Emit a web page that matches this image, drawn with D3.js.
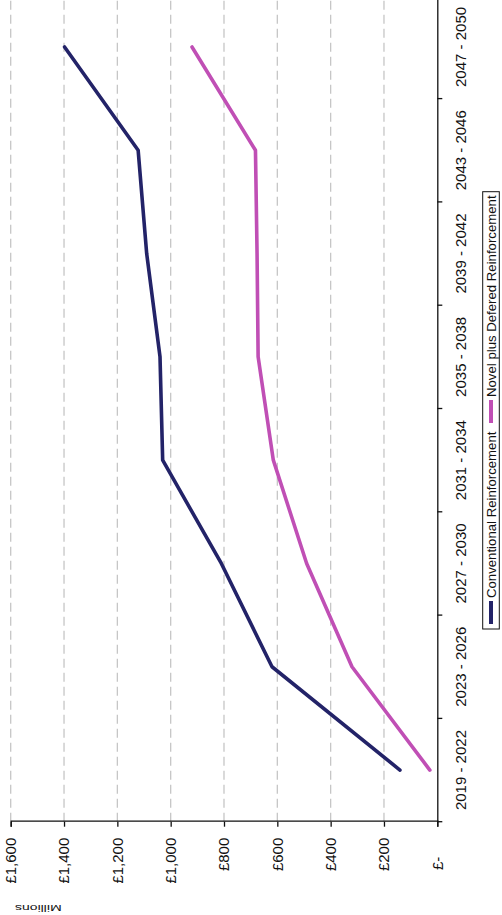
<!DOCTYPE html>
<html>
<head>
<meta charset="utf-8">
<script src="https://cdn.jsdelivr.net/npm/d3@7"></script>
<style>
  html, body { margin: 0; padding: 0; background: #ffffff; }
  svg { display: block; }
  text { font-family: "Liberation Sans", Arial, sans-serif; fill: #111; }
</style>
</head>
<body>
<svg id="chart" width="502" height="915"></svg>
<script>
// Four-year periods on the category axis
const periods = ["2019 - 2022", "2023 - 2026", "2027 - 2030", "2031 - 2034",
                 "2035 - 2038", "2039 - 2042", "2043 - 2046", "2047 - 2050"];

// Cumulative cost, £ millions
const conventional = [140, 620, 810, 1030, 1040, 1090, 1122, 1398];
const novelDeferred = [28, 320, 490, 615, 672, 676, 682, 920];

const seriesNames = ["Conventional Reinforcement", "Novel plus Defered Reinforcement"];
const seriesColors = ["#232368", "#c04fb5"];

const valueTicks = [0, 200, 400, 600, 800, 1000, 1200, 1400, 1600];
const valueTickLabels = ["£-", "£200", "£400", "£600", "£800", "£1,000", "£1,200", "£1,400", "£1,600"];

// The chart is laid out landscape (915 x 502) and turned a quarter turn anticlockwise onto the page.
const W = 915, H = 502;
const svg = d3.select("#chart");
const g = svg.append("g").attr("transform", `translate(0,${W}) rotate(-90)`);

const plot = { left: 93.3, right: 919.7, top: 10.7, bottom: 437.3 };

const x = d3.scaleBand().domain(periods).range([plot.left, plot.right]).padding(0);
const y = d3.scaleLinear().domain([0, 1600]).range([plot.bottom, plot.top]);

// Dashed horizontal gridlines
g.append("g")
  .selectAll("line")
  .data(valueTicks.filter(v => v > 0))
  .join("line")
  .attr("x1", plot.left).attr("x2", plot.right)
  .attr("y1", d => y(d)).attr("y2", d => y(d))
  .attr("stroke", "#c6c6c6")
  .attr("stroke-width", 1.3)
  .attr("stroke-dasharray", "9,5");

// Value axis
const yAxis = g.append("g")
  .attr("transform", `translate(${plot.left},0)`)
  .call(d3.axisLeft(y)
    .tickValues(valueTicks)
    .tickFormat((d, i) => valueTickLabels[i])
    .tickSize(5)
    .tickPadding(11));
yAxis.select(".domain").attr("stroke", "#111").attr("stroke-width", 1.3);
yAxis.selectAll(".tick line").attr("stroke", "#111").attr("stroke-width", 1.3);
yAxis.selectAll(".tick text")
  .attr("font-size", 15)
  .attr("font-family", "Liberation Sans, Arial, sans-serif")
  .attr("fill", "#111")
  .attr("dx", d => d === 0 ? -19 : 0);

// Category axis: labels centred in each period, tick marks on period boundaries
const xAxis = g.append("g")
  .attr("transform", `translate(0,${plot.bottom})`)
  .call(d3.axisBottom(x).tickSize(0).tickPadding(18));
xAxis.select(".domain").attr("stroke", "#111").attr("stroke-width", 1.3);
xAxis.selectAll(".tick text")
  .attr("font-size", 15)
  .attr("font-family", "Liberation Sans, Arial, sans-serif")
  .attr("fill", "#111");

const boundaries = periods.map(p => x(p)).concat([x(periods[periods.length - 1]) + x.bandwidth()]);
g.append("g")
  .selectAll("line")
  .data(boundaries)
  .join("line")
  .attr("x1", d => d).attr("x2", d => d)
  .attr("y1", plot.bottom).attr("y2", plot.bottom + 5)
  .attr("stroke", "#111").attr("stroke-width", 1.3);

// Axis title
g.append("text")
  .attr("transform", "translate(7,38.3) rotate(-90) scale(1,0.65)")
  .attr("text-anchor", "middle")
  .attr("dominant-baseline", "central")
  .attr("font-size", 14)
  .text("Millions");

// Series lines
const line = d3.line()
  .x((d, i) => x(periods[i]) + x.bandwidth() / 2)
  .y(d => y(d));

[conventional, novelDeferred].forEach((vals, k) => {
  g.append("path")
    .datum(vals)
    .attr("d", line)
    .attr("fill", "none")
    .attr("stroke", seriesColors[k])
    .attr("stroke-width", 3.6)
    .attr("stroke-linejoin", "round")
    .attr("stroke-linecap", "round");
});

// Legend
const legend = g.append("g");
legend.append("rect")
  .attr("x", 286).attr("y", 482.7)
  .attr("width", 437.3).attr("height", 16.6)
  .attr("fill", "#fff").attr("stroke", "#111").attr("stroke-width", 1);

const legendItems = [
  { name: seriesNames[0], color: seriesColors[0], x0: 291 },
  { name: seriesNames[1], color: seriesColors[1], x0: 492 }
];
legendItems.forEach(it => {
  legend.append("line")
    .attr("x1", it.x0).attr("x2", it.x0 + 23)
    .attr("y1", 491).attr("y2", 491)
    .attr("stroke", it.color).attr("stroke-width", 4);
  legend.append("text")
    .attr("x", it.x0 + 26).attr("y", 495.6)
    .attr("font-size", 13.2)
    .text(it.name);
});
</script>
</body>
</html>
